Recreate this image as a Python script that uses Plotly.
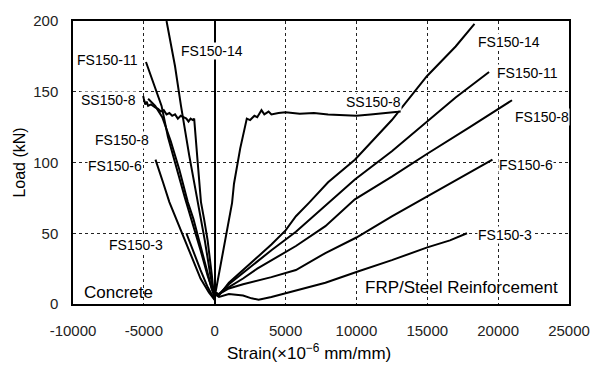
import plotly.graph_objects as go

# ---- data (strain in 1e-6 mm/mm, load in kN) ----
# Concrete (compression) side
fs14_c_x = [0, -150, -300, -700, -1200, -1800, -2380, -2800, -3400]
fs14_c_y = [5, 12, 20, 45, 71, 105, 140, 168, 200]

fs11_c_x = [0, -250, -500, -1000, -1600, -2100, -2800, -3300, -3750, -4300, -4850]
fs11_c_y = [5, 12, 20, 38, 58, 75, 100, 118, 140, 155, 171]

fs8_c_x = [0, -220, -450, -900, -1500, -1900, -2500, -3100, -3700, -4200, -4700]
fs8_c_y = [5, 11, 20, 38, 60, 72, 95, 115, 132, 140, 145]

ss8_c_x = [0, -100, -200, -500, -750, -970, -1200, -1400, -1450, -1550, -1700, -1850,
           -2000, -2200, -2400, -2600, -2800, -3000, -3200, -3400, -3600, -3800, -4000,
           -4200, -4500, -4700, -4800, -4900, -5000, -5050, -4950, -5050, -5000]
ss8_c_y = [5, 10, 20, 45, 60, 72, 100, 125, 131, 130, 131, 129,
           131, 132, 133, 131, 134, 133, 135, 134, 137, 136, 138,
           139, 141, 140, 143, 141, 144, 146, 143, 147, 145]

fs6_c_x = [0, -400, -1000, -1700, -2400, -3200, -3650, -4180]
fs6_c_y = [3, 8, 18, 35, 52, 72, 86, 102]

fs3_c_x = [0, -500, -1000, -1500, -2000]
fs3_c_y = [3, 12, 24, 37, 50]

# FRP / steel reinforcement side
fs14_r_x = [0, 300, 1000, 2000, 3000, 4000, 5000, 5730, 6650, 8000, 9890, 12500, 14970, 17000, 18330]
fs14_r_y = [8, 6, 15, 24, 33, 42, 52, 62, 71.5, 86, 102, 130, 161, 182, 198]

fs11_r_x = [0, 300, 1000, 2000, 3000, 4000, 5730, 8040, 9890, 12500, 14970, 17000, 19360]
fs11_r_y = [8, 7, 14, 22, 30, 38, 51, 71.5, 88, 108, 129, 146, 164]

fs8_r_x = [0, 300, 1000, 2000, 3000, 4500, 5730, 7810, 9890, 12500, 14970, 18000, 20980]
fs8_r_y = [8, 7, 12, 18, 25, 34, 41, 55, 74, 90, 106, 125, 144]

fs6_r_x = [0, 300, 1000, 2000, 4000, 5730, 7810, 10000, 12500, 15200, 17500, 19600]
fs6_r_y = [8, 7, 11, 14, 19, 24, 36, 47, 62, 77, 90, 102]

fs3_r_x = [0, 300, 1000, 2000, 2600, 3100, 4000, 5730, 7810, 10100, 12500, 15000, 16600, 17800]
fs3_r_y = [7, 5, 7, 6, 4, 3, 5, 9.6, 15, 23, 31, 40, 45, 50]

ss8_r_x = [0, 200, 500, 900, 1225, 1360, 1800, 2265, 2500, 2800, 3000, 3300, 3500, 3800,
           4000, 4500, 5000, 6000, 7000, 8000, 9000, 10000, 11000, 12000, 13120]
ss8_r_y = [5, 16, 33, 55, 71.5, 85, 110, 131, 130, 133, 132, 137, 134, 136,
           134, 135, 135.5, 134.5, 135, 134, 133.5, 133, 134, 135, 136]

x_ticks = [-10000, -5000, 0, 5000, 10000, 15000, 20000, 25000]
x_tick_labels = ["-10000", "-5000", "0", "5000", "10000", "15000", "20000", "25000"]
y_ticks = [0, 50, 100, 150, 200]

series = [
    (fs14_c_x, fs14_c_y), (fs11_c_x, fs11_c_y), (fs8_c_x, fs8_c_y), (ss8_c_x, ss8_c_y),
    (fs6_c_x, fs6_c_y), (fs3_c_x, fs3_c_y),
    (fs14_r_x, fs14_r_y), (fs11_r_x, fs11_r_y), (fs8_r_x, fs8_r_y), (fs6_r_x, fs6_r_y),
    (fs3_r_x, fs3_r_y), (ss8_r_x, ss8_r_y),
]

FONT = "Liberation Sans, Arial, sans-serif"

fig = go.Figure()
for xs, ys in series:
    fig.add_trace(go.Scatter(x=xs, y=ys, mode="lines",
                             line=dict(color="black", width=2), showlegend=False,
                             hoverinfo="skip"))

lab_font = dict(family=FONT, size=14, color="black")
big_font = dict(family=FONT, size=17, color="black")

labels = [
    ("FS150-14", -160, 179),
    ("FS150-11", -7575, 172.5),
    ("SS150-8", -7505, 144),
    ("FS150-8", -6535, 116),
    ("FS150-6", -7020, 97.5),
    ("FS150-3", -5530, 42),
    ("FS150-14", 20750, 185.5),
    ("FS150-11", 22100, 163),
    ("SS150-8", 11170, 143),
    ("FS150-8", 23100, 132),
    ("FS150-6", 22000, 98.5),
    ("FS150-3", 20500, 48.8),
]
for text, x, y in labels:
    fig.add_annotation(x=x, y=y, text=text, showarrow=False, font=lab_font,
                       bgcolor="white", borderpad=0, xanchor="center", yanchor="middle")

fig.add_annotation(x=-10000, y=8, text="Concrete", showarrow=False, font=big_font,
                   xanchor="left", yanchor="middle", xshift=9)
fig.add_annotation(x=25000, y=11.7, text="FRP/Steel Reinforcement", showarrow=False,
                   font=big_font, xanchor="right", yanchor="middle", xshift=-9)

fig.add_annotation(xref="paper", yref="paper", x=0.475, y=0, yshift=-48,
                   text="Strain(×10<sup>−6</sup> mm/mm)", showarrow=False,
                   font=dict(family=FONT, size=17, color="black"),
                   xanchor="center", yanchor="middle")

axis_common = dict(showline=True, linecolor="black", linewidth=1.5, mirror=True,
                   showgrid=True, gridcolor="#222", griddash="dot", gridwidth=1,
                   ticks="", tickfont=dict(family=FONT, size=15, color="#222"))

fig.update_xaxes(range=[-10000, 25000], tickmode="array", tickvals=x_ticks,
                 ticktext=x_tick_labels, zeroline=True, zerolinecolor="black",
                 zerolinewidth=1.5, ticklabelstandoff=12, **axis_common)
fig.update_yaxes(range=[0, 200], tickmode="array", tickvals=y_ticks, zeroline=False,
                 ticklabelstandoff=10,
                 title=dict(text="Load (kN)", standoff=4,
                            font=dict(family=FONT, size=16, color="black")),
                 **axis_common)

fig.update_layout(width=602, height=368, margin=dict(l=73, r=24, t=13, b=64),
                  paper_bgcolor="white", plot_bgcolor="white")

fig.write_html("out.html")
